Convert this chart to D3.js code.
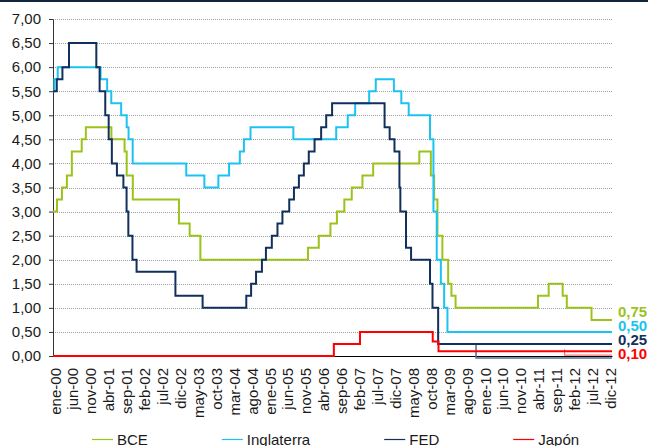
<!DOCTYPE html>
<html>
<head>
<meta charset="utf-8">
<script src="https://cdn.jsdelivr.net/npm/d3@7"></script>
<style>
  body { margin: 0; background: #fff; }
  svg { display: block; font-family: "Liberation Sans", Arial, sans-serif; }
</style>
</head>
<body>
<svg id="chart" width="648" height="446"></svg>
<script>
// tipos de interés oficiales, fecha del cambio y nuevo tipo
var bceDates = ["2000-01-01","2000-02-04","2000-03-17","2000-04-28","2000-06-09","2000-09-01","2000-10-06",
  "2001-05-11","2001-08-31","2001-09-18","2001-11-09","2002-12-06","2003-03-07","2003-06-06",
  "2005-12-06","2006-03-08","2006-06-15","2006-08-09","2006-10-11","2006-12-13","2007-03-14","2007-06-13",
  "2008-07-09","2008-10-15","2008-11-12","2008-12-10","2009-01-21","2009-03-11","2009-04-08","2009-05-13",
  "2011-04-13","2011-07-13","2011-11-09","2011-12-14","2012-07-11"];
var bceValues = [3.00,3.25,3.50,3.75,4.25,4.50,4.75,
  4.50,4.25,3.75,3.25,2.75,2.50,2.00,
  2.25,2.50,2.75,3.00,3.25,3.50,3.75,4.00,
  4.25,3.75,3.25,2.50,2.00,1.50,1.25,1.00,
  1.25,1.50,1.25,1.00,0.75];

var boeDates = ["2000-01-01","2000-01-13","2000-02-10","2001-02-08","2001-04-05","2001-05-10","2001-08-02",
  "2001-09-18","2001-10-04","2001-11-08","2003-02-06","2003-07-10","2003-11-06","2004-02-05","2004-05-06",
  "2004-06-10","2004-08-05","2005-08-04","2006-08-03","2006-11-09","2007-01-11","2007-05-10","2007-07-05",
  "2007-12-06","2008-02-07","2008-04-10","2008-10-08","2008-11-06","2008-12-04","2009-01-08","2009-02-05","2009-03-05"];
var boeValues = [5.50,5.75,6.00,5.75,5.50,5.25,5.00,
  4.75,4.50,4.00,3.75,3.50,3.75,4.00,4.25,
  4.50,4.75,4.50,4.75,5.00,5.25,5.50,5.75,
  5.50,5.25,5.00,4.50,3.00,2.00,1.50,1.00,0.50];

var fedDates = ["2000-01-01","2000-02-02","2000-03-21","2000-05-16","2001-01-03","2001-01-31","2001-03-20",
  "2001-04-18","2001-05-15","2001-06-27","2001-08-21","2001-09-17","2001-10-02","2001-11-06","2001-12-11",
  "2002-11-06","2003-06-25","2004-06-30","2004-08-10","2004-09-21","2004-11-10","2004-12-14","2005-02-02",
  "2005-03-22","2005-05-03","2005-06-30","2005-08-09","2005-09-20","2005-11-01","2005-12-13","2006-01-31",
  "2006-03-28","2006-05-10","2006-06-29","2007-09-18","2007-10-31","2007-12-11","2008-01-22","2008-01-30",
  "2008-03-18","2008-04-30","2008-10-08","2008-10-29","2008-12-16"];
var fedValues = [5.50,5.75,6.00,6.50,6.00,5.50,5.00,
  4.50,4.00,3.75,3.50,3.00,2.50,2.00,1.75,
  1.25,1.00,1.25,1.50,1.75,2.00,2.25,2.50,
  2.75,3.00,3.25,3.50,3.75,4.00,4.25,4.50,
  4.75,5.00,5.25,4.75,4.50,4.25,3.50,3.00,
  2.25,2.00,1.50,1.00,0.25];

var japonDates = ["2000-01-01","2006-07-14","2007-02-21","2008-10-31","2008-12-19"];
var japonValues = [0.00,0.25,0.50,0.30,0.10];

// restos de series que se ven pegados al eje en el original
var fedRestoDates = ["2009-11-03","2009-11-03"];
var fedRestoValues = [0.25,-0.04];
var japonRestoDates = ["2011-11-25","2011-11-25"];
var japonRestoValues = [0.14,0.02];

var yTicks = [0,0.5,1,1.5,2,2.5,3,3.5,4,4.5,5,5.5,6,6.5,7];
var tickLabels = ["ene-00","jun-00","nov-00","abr-01","sep-01","feb-02","jul-02","dic-02","may-03","oct-03",
  "mar-04","ago-04","ene-05","jun-05","nov-05","abr-06","sep-06","feb-07","jul-07","dic-07","may-08","oct-08",
  "mar-09","ago-09","ene-10","jun-10","nov-10","abr-11","sep-11","feb-12","jul-12","dic-12"];

var seriesNames = ["BCE","Inglaterra","FED","Japón"];
var seriesColors = ["#9bc31c","#1cc3f2","#12305e","#ff0000"];

var width = 648, height = 446;
var margin = {top: 19, right: 36, bottom: 90, left: 53};
var w = width - margin.left - margin.right;
var h = height - margin.top - margin.bottom;

var parseDay = d3.timeParse("%Y-%m-%d");
var es = d3.timeFormatLocale({
  dateTime: "%A, %e de %B de %Y, %X", date: "%d/%m/%Y", time: "%H:%M:%S", periods: ["AM","PM"],
  days: ["domingo","lunes","martes","miércoles","jueves","viernes","sábado"],
  shortDays: ["dom","lun","mar","mié","jue","vie","sáb"],
  months: ["enero","febrero","marzo","abril","mayo","junio","julio","agosto","septiembre","octubre","noviembre","diciembre"],
  shortMonths: ["ene","feb","mar","abr","may","jun","jul","ago","sep","oct","nov","dic"]
});
var parseTick = es.parse("%b-%y");
var numFmt = d3.formatLocale({decimal: ",", thousands: ".", grouping: [3], currency: ["", "€"]}).format(".2f");

var start = new Date(2000, 0, 1), end = new Date(2013, 0, 1);
var x = d3.scaleTime().domain([start, end]).range([0, w]);
var y = d3.scaleLinear().domain([0, 7]).range([h, 0]);

function steps(dates, values, toEnd) {
  var pts = dates.map(function(d, i) { return {date: parseDay(d), value: values[i]}; });
  if (toEnd) pts.push({date: end, value: values[values.length - 1]});
  return pts;
}

var series = [
  steps(bceDates, bceValues, true),
  steps(boeDates, boeValues, true),
  steps(fedDates, fedValues, true),
  steps(japonDates, japonValues, true)
];

var svg = d3.select("#chart");
svg.append("rect").attr("x", 0).attr("y", 0).attr("width", width).attr("height", 2).attr("fill", "#14253f");

var g = svg.append("g").attr("transform", "translate(" + margin.left + "," + margin.top + ")");

// rejilla
g.selectAll(".grid")
  .data(yTicks.filter(function(v) { return v > 0; }))
  .enter().append("line")
    .attr("x1", 0).attr("x2", w)
    .attr("y1", function(d) { return Math.round(y(d)) + 0.5; })
    .attr("y2", function(d) { return Math.round(y(d)) + 0.5; })
    .attr("stroke", "#9d9d9d")
    .attr("stroke-dasharray", "1,1");

// eje y
var yAxis = d3.axisLeft(y).tickValues(yTicks).tickSize(4).tickSizeOuter(0).tickPadding(8).tickFormat(numFmt);
var gy = g.append("g").call(yAxis);
gy.select(".domain").attr("stroke", "#333");
gy.selectAll(".tick line").attr("stroke", "#333");
gy.selectAll("text").attr("font-size", 15).attr("fill", "#1a1a1a").style("font-family", "Liberation Sans, Arial, sans-serif");

// eje x, etiquetas en el centro de cada mes
var tickDates = tickLabels.map(function(s) {
  var d = parseTick(s);
  var n = d3.timeMonth.offset(d, 1);
  return new Date((d.getTime() + n.getTime()) / 2);
});
var xAxis = d3.axisBottom(x).tickValues(tickDates).tickSize(0).tickFormat(function(d, i) { return tickLabels[i]; });
var gx = g.append("g").attr("transform", "translate(0," + h + ")").call(xAxis);
gx.select(".domain").attr("stroke", "#000");
gx.selectAll("text")
  .attr("transform", "rotate(-90)")
  .attr("text-anchor", "end")
  .attr("x", -12).attr("y", 0).attr("dy", "0.35em")
  .attr("font-size", 15).attr("fill", "#1a1a1a")
  .style("font-family", "Liberation Sans, Arial, sans-serif");

var line = d3.line()
  .x(function(d) { return x(d.date); })
  .y(function(d) { return y(d.value); })
  .curve(d3.curveStepAfter);

// restos
g.append("path").datum(steps(fedRestoDates, fedRestoValues, true))
  .attr("d", line).attr("fill", "none").attr("stroke", "#4f6f95").attr("stroke-width", 1.5);
g.append("path").datum(steps(japonRestoDates, japonRestoValues, true))
  .attr("d", line).attr("fill", "none").attr("stroke", "#ff0000").attr("stroke-opacity", 0.55).attr("stroke-width", 1.2);

g.selectAll(".serie")
  .data(series)
  .enter().append("path")
    .attr("d", line)
    .attr("fill", "none")
    .attr("stroke", function(d, i) { return seriesColors[i]; })
    .attr("stroke-width", 2);

// etiquetas del último valor
var prev = -Infinity;
series.forEach(function(s, i) {
  var v = s[s.length - 1].value;
  var by = Math.max(y(v) - 3, prev + 14);
  prev = by;
  g.append("text")
    .attr("x", x(end) + 6).attr("y", by)
    .attr("font-size", 15).attr("font-weight", "bold")
    .attr("fill", seriesColors[i])
    .text(numFmt(v));
});

// leyenda
var lx = 92;
seriesNames.forEach(function(name, i) {
  var item = svg.append("g").attr("transform", "translate(" + lx + ",439)");
  item.append("line").attr("x1", 0).attr("x2", 21).attr("y1", 0.5).attr("y2", 0.5)
    .attr("stroke", seriesColors[i]).attr("stroke-width", 1.2);
  var t = item.append("text").attr("x", 25).attr("y", 5.5)
    .attr("font-size", 15).attr("fill", "#1a1a1a").text(name);
  lx += 25 + t.node().getComputedTextLength() + 74;
});
</script>
</body>
</html>
